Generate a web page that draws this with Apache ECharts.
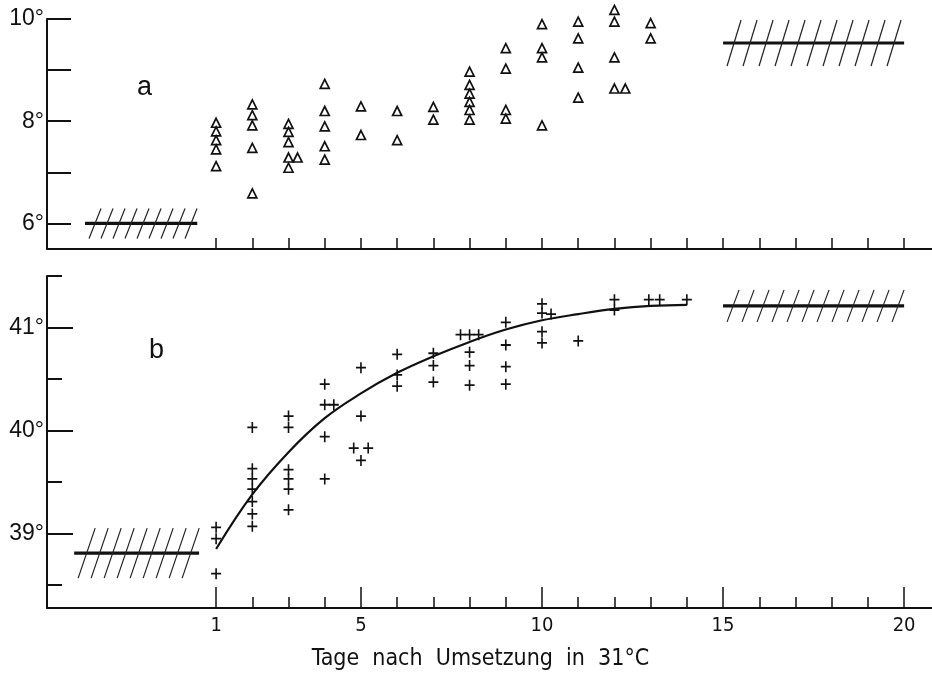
<!DOCTYPE html>
<html>
<head>
<meta charset="utf-8">
<script src="https://cdn.jsdelivr.net/npm/echarts@6/dist/echarts.min.js"></script>
<style>
  html, body { margin: 0; padding: 0; background: #fff; }
  #chart { width: 932px; height: 673px; }
</style>
</head>
<body>
<div id="chart"></div>
<script>
// panel a: triangles (day, temperature)
const aDays = [1, 1, 1, 1, 1, 2, 2, 2, 2, 2, 3, 3, 3, 3, 3, 3.25, 4, 4, 4, 4, 4, 5, 5, 6, 6, 7, 7,
  8, 8, 8, 8, 8, 8, 9, 9, 9, 9, 10, 10, 10, 10, 11, 11, 11, 11, 12, 12, 12, 12, 12.3, 13, 13];
const aTemps = [7.97, 7.80, 7.63, 7.45, 7.12, 8.33, 8.12, 7.92, 7.48, 6.59, 7.95, 7.79, 7.59, 7.29, 7.09, 7.29,
  8.73, 8.20, 7.90, 7.51, 7.25, 8.29, 7.73, 8.20, 7.63, 8.28, 8.03,
  8.97, 8.71, 8.54, 8.38, 8.22, 8.03, 9.43, 9.03, 8.22, 8.05, 9.90, 9.43, 9.25, 7.92,
  9.95, 9.62, 9.05, 8.46, 10.18, 9.95, 9.25, 8.64, 8.64, 9.92, 9.62];

// panel b: crosses (day, temperature)
const bDays = [1, 1, 1, 2, 2, 2, 2, 2, 2, 2, 3, 3, 3, 3, 3, 3, 4, 4, 4.25, 4, 4, 5, 4.8, 5.2, 5, 5,
  6, 6, 6, 7, 7, 7, 7.75, 8, 8.25, 8, 8, 8, 9, 9, 9, 9, 10, 10, 10, 10, 10.25, 11, 12, 12, 12.95, 13.25, 14];
const bTemps = [39.06, 38.95, 38.61, 40.03, 39.63, 39.53, 39.43, 39.31, 39.19, 39.07,
  40.14, 40.03, 39.62, 39.53, 39.43, 39.23, 40.45, 40.25, 40.25, 39.94, 39.53,
  40.61, 39.83, 39.83, 40.14, 39.71, 40.74, 40.54, 40.43, 40.75, 40.63, 40.47,
  40.93, 40.93, 40.93, 40.76, 40.63, 40.44, 41.05, 40.83, 40.62, 40.45,
  41.23, 41.14, 40.96, 40.85, 41.13, 40.87, 41.27, 41.17, 41.27, 41.27, 41.27];

// fitted curve in panel b
const curveDays = [1, 2, 3, 4, 5, 6, 7, 8, 9, 10, 11, 12, 13, 14];
const curveTemps = [38.85, 39.38, 39.79, 40.12, 40.36, 40.56, 40.72, 40.86, 40.98, 41.07, 41.13, 41.18, 41.21, 41.22];

// hatched reference bands: [from day, to day, temperature]
const hatchA = [[-2.62, 0.48, 6.0], [15, 20, 9.53]];
const hatchB = [[-2.92, 0.53, 38.81], [15, 20, 41.21]];

// tick values
const dayTicks = [1, 2, 3, 4, 5, 6, 7, 8, 9, 10, 11, 12, 13, 14, 15, 16, 17, 18, 19, 20];
const dayMajor = [1, 5, 10, 15, 20];
const dayLabels = [1, 5, 10, 15, 20];
const aTicks = [6, 7, 8, 9, 10];
const aLabels = [6, 8, 10];
const bMajor = [39, 40, 41];
const bMinor = [38.5, 39.5, 40.5, 41.5];

const pair = (xs, ys) => xs.map((x, i) => [x, ys[i]]);

// hatch looks: half height, spacing, slant (px)
const hatchLook = [
  [{ h: 15, gap: 12, s: 12 }, { h: 23, gap: 16, s: 14 }],
  [{ h: 25, gap: 13, s: 17 }, { h: 16, gap: 15, s: 12 }]
];

function hatchRender(panel) {
  return function (params, api) {
    const p0 = api.coord([api.value(0), api.value(2)]);
    const p1 = api.coord([api.value(1), api.value(2)]);
    const look = hatchLook[panel][params.dataIndex];
    const children = [{
      type: 'line',
      shape: { x1: p0[0], y1: p0[1], x2: p1[0], y2: p1[1] },
      style: { stroke: '#111', lineWidth: 3.2 }
    }];
    for (let x = p0[0] + 4; x + look.s <= p1[0] + 6; x += look.gap) {
      children.push({
        type: 'line',
        shape: { x1: x, y1: p0[1] + look.h, x2: x + look.s, y2: p0[1] - look.h },
        style: { stroke: '#222', lineWidth: 1.2 }
      });
    }
    return { type: 'group', children: children };
  };
}

const font = "'DejaVu Sans Condensed', 'Liberation Sans Narrow', sans-serif";
const yFont = "'Liberation Sans', Arial, sans-serif";

const chart = echarts.init(document.getElementById('chart'));

const xBase = {
  type: 'value', min: -3.67, max: 20.77, position: 'bottom',
  splitLine: { show: false }
};
const yBase = {
  type: 'value', position: 'left',
  splitLine: { show: false }
};

const option = {
  animation: false,
  backgroundColor: '#fff',
  grid: [
    { left: 47, top: 19, width: 885, height: 230 },
    { left: 47, top: 276, width: 885, height: 332 }
  ],
  xAxis: [
    Object.assign({}, xBase, {
      gridIndex: 0,
      axisLine: { onZero: false, lineStyle: { color: '#111', width: 2 } },
      axisTick: { inside: true, length: 11, customValues: dayTicks, lineStyle: { color: '#111', width: 1.5 } },
      axisLabel: { show: false }
    }),
    Object.assign({}, xBase, {
      gridIndex: 1,
      axisLine: { onZero: false, lineStyle: { color: '#111', width: 2 } },
      axisTick: { inside: true, length: 21, customValues: dayMajor, lineStyle: { color: '#111', width: 1.5 } },
      axisLabel: {
        customValues: dayLabels, margin: 8, color: '#111', fontSize: 20, fontFamily: font
      },
      name: 'Tage  nach  Umsetzung  in  31°C',
      nameLocation: 'middle',
      nameGap: 40,
      nameTextStyle: { color: '#111', fontSize: 23, fontFamily: font, padding: [0, 18, 0, 0] }
    }),
    Object.assign({}, xBase, {
      gridIndex: 1,
      axisLine: { show: false, onZero: false },
      axisTick: { inside: true, length: 11, customValues: dayTicks, lineStyle: { color: '#111', width: 1.5 } },
      axisLabel: { show: false }
    })
  ],
  yAxis: [
    Object.assign({}, yBase, {
      gridIndex: 0, min: 5.5, max: 10,
      axisLine: { show: true, onZero: false, lineStyle: { color: '#111', width: 2 } },
      axisTick: { show: true, inside: true, length: 24, customValues: aTicks, lineStyle: { color: '#111', width: 2 } },
      axisLabel: {
        customValues: aLabels, margin: 3, color: '#111', fontSize: 23, fontFamily: yFont,
        formatter: v => v + '°'
      }
    }),
    Object.assign({}, yBase, {
      gridIndex: 1, min: 38.277, max: 41.5,
      axisLine: { show: true, onZero: false, lineStyle: { color: '#111', width: 2 } },
      axisTick: { show: true, inside: true, length: 26, customValues: bMajor, lineStyle: { color: '#111', width: 2 } },
      axisLabel: {
        customValues: bMajor, margin: 3, color: '#111', fontSize: 23, fontFamily: yFont,
        formatter: v => v + '°'
      }
    }),
    Object.assign({}, yBase, {
      gridIndex: 1, min: 38.277, max: 41.5,
      axisLine: { show: false, onZero: false },
      axisTick: { show: true, inside: true, length: 15, customValues: bMinor, lineStyle: { color: '#111', width: 2 } },
      axisLabel: { show: false }
    })
  ],
  graphic: [
    { type: 'text', left: 137, top: 74, style: { text: 'a', fontSize: 27, fontFamily: yFont, fill: '#111' } },
    { type: 'text', left: 149, top: 337, style: { text: 'b', fontSize: 27, fontFamily: yFont, fill: '#111' } }
  ],
  series: [
    {
      type: 'scatter', xAxisIndex: 0, yAxisIndex: 0, clip: false,
      data: pair(aDays, aTemps),
      symbol: 'triangle', symbolSize: [9, 9],
      itemStyle: { color: '#fff', borderColor: '#111', borderWidth: 1.7, opacity: 1 }
    },
    {
      type: 'scatter', xAxisIndex: 1, yAxisIndex: 1, clip: false,
      data: pair(bDays, bTemps),
      symbol: 'path://M0,5L10,5M5,0L5,10', symbolSize: [10, 11],
      itemStyle: { color: 'none', borderColor: '#111', borderWidth: 1.7, opacity: 1 }
    },
    {
      type: 'line', xAxisIndex: 1, yAxisIndex: 1,
      data: pair(curveDays, curveTemps),
      smooth: 0.4, showSymbol: false, symbol: 'none',
      lineStyle: { color: '#111', width: 2.2 }
    },
    {
      type: 'custom', xAxisIndex: 0, yAxisIndex: 0,
      data: hatchA, renderItem: hatchRender(0)
    },
    {
      type: 'custom', xAxisIndex: 1, yAxisIndex: 1,
      data: hatchB, renderItem: hatchRender(1)
    }
  ]
};

chart.setOption(option);
window.addEventListener('resize', () => chart.resize());
</script>
</body>
</html>
